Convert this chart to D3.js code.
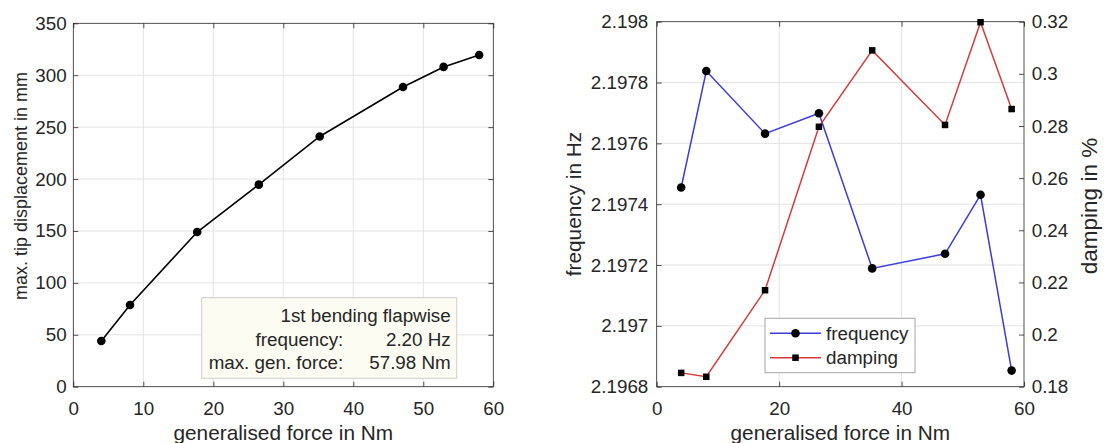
<!DOCTYPE html>
<html>
<head>
<meta charset="utf-8">
<script src="https://cdn.jsdelivr.net/npm/d3@7"></script>
<style>
  body { margin: 0; background: #fff; }
  svg text { font-family: "Liberation Sans", Arial, Helvetica, sans-serif; fill: #262626; }
</style>
</head>
<body>
<svg id="chart" width="1104" height="443"></svg>
<script>
// Generalised force levels (Nm) used for every run
const force = [4, 8.1, 17.7, 26.5, 35.2, 47.1, 52.9, 57.98];
// Max. tip displacement (mm) per force level
const tipDisplacement = [44, 78.7, 149, 194.6, 241, 288.7, 308, 319.5];
// Identified first flapwise bending frequency (Hz)
const frequencyHz = [2.197455, 2.197838, 2.197632, 2.197699, 2.197189, 2.197237, 2.197431, 2.196853];
// Identified damping (%)
const dampingPct = [0.1853, 0.1838, 0.2170, 0.2797, 0.3090, 0.2804, 0.3198, 0.2865];

// Tick values and labels
const leftXTicks = [0, 10, 20, 30, 40, 50, 60];
const leftYTicks = [0, 50, 100, 150, 200, 250, 300, 350];
const rightXTicks = [0, 20, 40, 60];
const freqTicks = [2.1968, 2.197, 2.1972, 2.1974, 2.1976, 2.1978, 2.198];
const freqTickLabels = ["2.1968", "2.197", "2.1972", "2.1974", "2.1976", "2.1978", "2.198"];
const dampTicks = [0.18, 0.2, 0.22, 0.24, 0.26, 0.28, 0.3, 0.32];
const dampTickLabels = ["0.18", "0.2", "0.22", "0.24", "0.26", "0.28", "0.3", "0.32"];

const svg = d3.select("#chart");
const AXIS = "#262626";
const GRID = "#e3e3e3";
const FS = 18.8;     // tick labels, legend, info box
const LFS = 20.8;    // axis labels
const TICK = 5;

function styleAxis(g, hideText) {
  g.select(".domain").remove();
  g.selectAll(".tick line").attr("stroke", AXIS).attr("stroke-width", 0.8);
  g.selectAll(".tick text").attr("font-size", FS).attr("fill", AXIS);
  if (hideText) g.selectAll(".tick text").remove();
}

function frame(g, x0, x1, y0, y1) {
  g.append("rect").attr("x", x0).attr("y", y0).attr("width", x1 - x0).attr("height", y1 - y0)
    .attr("fill", "none").attr("stroke", AXIS).attr("stroke-width", 0.8);
}

// ---------------- Left panel: tip displacement ----------------
{
  const x0 = 73.3, x1 = 493.3, y0 = 23.3, y1 = 386.7;
  const x = d3.scaleLinear().domain([0, 60]).range([x0, x1]);
  const y = d3.scaleLinear().domain([0, 350]).range([y1, y0]);
  const g = svg.append("g");

  // grid
  g.append("g").selectAll("line").data(leftXTicks.slice(1, -1)).join("line")
    .attr("x1", d => x(d)).attr("x2", d => x(d)).attr("y1", y0).attr("y2", y1)
    .attr("stroke", GRID).attr("stroke-width", 1);
  g.append("g").selectAll("line").data(leftYTicks.slice(1, -1)).join("line")
    .attr("y1", d => y(d)).attr("y2", d => y(d)).attr("x1", x0).attr("x2", x1)
    .attr("stroke", GRID).attr("stroke-width", 1);

  g.append("g").attr("transform", `translate(0,${y1})`)
    .call(d3.axisBottom(x).tickValues(leftXTicks).tickSize(-TICK).tickPadding(15).tickFormat(d3.format("d")))
    .call(a => styleAxis(a, false));
  g.append("g").attr("transform", `translate(0,${y0})`)
    .call(d3.axisTop(x).tickValues(leftXTicks).tickSize(-TICK))
    .call(a => styleAxis(a, true));
  g.append("g").attr("transform", `translate(${x0},0)`)
    .call(d3.axisLeft(y).tickValues(leftYTicks).tickSize(-TICK).tickPadding(6.6).tickFormat(d3.format("d")))
    .call(a => styleAxis(a, false));
  g.append("g").attr("transform", `translate(${x1},0)`)
    .call(d3.axisRight(y).tickValues(leftYTicks).tickSize(-TICK))
    .call(a => styleAxis(a, true));
  frame(g, x0, x1, y0, y1);

  const pts = force.map((f, i) => [f, tipDisplacement[i]]);
  g.append("path").datum(pts)
    .attr("d", d3.line().x(d => x(d[0])).y(d => y(d[1])))
    .attr("fill", "none").attr("stroke", "#000").attr("stroke-width", 1.6);
  g.append("g").selectAll("circle").data(pts).join("circle")
    .attr("cx", d => x(d[0])).attr("cy", d => y(d[1])).attr("r", 4.3).attr("fill", "#000");

  // axis labels
  g.append("text").attr("x", (x0 + x1) / 2).attr("y", 440).attr("text-anchor", "middle")
    .attr("font-size", LFS).text("generalised force in Nm");
  g.append("text").attr("transform", "translate(26.5,186) rotate(-90)").attr("text-anchor", "middle")
    .attr("font-size", 18).text("max. tip displacement in mm");

  // info box
  const bx0 = 201.7, bx1 = 456.7, by0 = 297.7, by1 = 378.3;
  g.append("rect").attr("x", bx0).attr("y", by0).attr("width", bx1 - bx0).attr("height", by1 - by0)
    .attr("fill", "#fcfcf2").attr("stroke", "#cfcfcf").attr("stroke-width", 1);
  const rx = 450.7, mx = 343.3;
  g.append("text").attr("x", rx).attr("y", 321.7).attr("text-anchor", "end").attr("font-size", FS)
    .text("1st bending flapwise");
  g.append("text").attr("x", mx).attr("y", 345.7).attr("text-anchor", "end").attr("font-size", FS)
    .text("frequency:");
  g.append("text").attr("x", rx).attr("y", 345.7).attr("text-anchor", "end").attr("font-size", FS)
    .text(d3.mean(frequencyHz).toFixed(2) + " Hz");
  g.append("text").attr("x", mx).attr("y", 369).attr("text-anchor", "end").attr("font-size", FS)
    .text("max. gen. force:");
  g.append("text").attr("x", rx).attr("y", 369).attr("text-anchor", "end").attr("font-size", FS)
    .text(d3.max(force).toFixed(2) + " Nm");
}

// ---------------- Right panel: frequency & damping ----------------
{
  const x0 = 656.7, x1 = 1024, y0 = 21.7, y1 = 386.7;
  const x = d3.scaleLinear().domain([0, 60]).range([x0, x1]);
  const yF = d3.scaleLinear().domain([2.1968, 2.198]).range([y1, y0]);
  const yD = d3.scaleLinear().domain([0.18, 0.32]).range([y1, y0]);
  const g = svg.append("g");

  g.append("g").selectAll("line").data(rightXTicks.slice(1, -1)).join("line")
    .attr("x1", d => x(d)).attr("x2", d => x(d)).attr("y1", y0).attr("y2", y1)
    .attr("stroke", GRID).attr("stroke-width", 1);
  g.append("g").selectAll("line").data(freqTicks.slice(1, -1)).join("line")
    .attr("y1", d => yF(d)).attr("y2", d => yF(d)).attr("x1", x0).attr("x2", x1)
    .attr("stroke", GRID).attr("stroke-width", 1);

  g.append("g").attr("transform", `translate(0,${y1})`)
    .call(d3.axisBottom(x).tickValues(rightXTicks).tickSize(-TICK).tickPadding(15).tickFormat(d3.format("d")))
    .call(a => styleAxis(a, false));
  g.append("g").attr("transform", `translate(0,${y0})`)
    .call(d3.axisTop(x).tickValues(rightXTicks).tickSize(-TICK))
    .call(a => styleAxis(a, true));
  g.append("g").attr("transform", `translate(${x0},0)`)
    .call(d3.axisLeft(yF).tickValues(freqTicks).tickSize(-TICK).tickPadding(8.4)
      .tickFormat((d, i) => freqTickLabels[i]))
    .call(a => styleAxis(a, false));
  g.append("g").attr("transform", `translate(${x1},0)`)
    .call(d3.axisRight(yD).tickValues(dampTicks).tickSize(-TICK).tickPadding(7.7)
      .tickFormat((d, i) => dampTickLabels[i]))
    .call(a => styleAxis(a, false));
  frame(g, x0, x1, y0, y1);

  const BLUE = "#3c3cdc", RED = "#d63a3a";
  const fPts = force.map((f, i) => [f, frequencyHz[i]]);
  const dPts = force.map((f, i) => [f, dampingPct[i]]);

  g.append("path").datum(fPts)
    .attr("d", d3.line().x(d => x(d[0])).y(d => yF(d[1])))
    .attr("fill", "none").attr("stroke", BLUE).attr("stroke-width", 1.5);
  g.append("path").datum(dPts)
    .attr("d", d3.line().x(d => x(d[0])).y(d => yD(d[1])))
    .attr("fill", "none").attr("stroke", RED).attr("stroke-width", 1.5);
  g.append("g").selectAll("circle").data(fPts).join("circle")
    .attr("cx", d => x(d[0])).attr("cy", d => yF(d[1])).attr("r", 4.3).attr("fill", "#000");
  const S = 6.5;
  g.append("g").selectAll("rect").data(dPts).join("rect")
    .attr("x", d => x(d[0]) - S / 2).attr("y", d => yD(d[1]) - S / 2)
    .attr("width", S).attr("height", S).attr("fill", "#000");

  g.append("text").attr("x", (x0 + x1) / 2).attr("y", 440).attr("text-anchor", "middle")
    .attr("font-size", LFS).text("generalised force in Nm");
  g.append("text").attr("transform", "translate(581,204) rotate(-90)").attr("text-anchor", "middle")
    .attr("font-size", LFS).text("frequency in Hz");
  g.append("text").attr("transform", "translate(1097,206) rotate(-90)").attr("text-anchor", "middle")
    .attr("font-size", 22.5).text("damping in %");

  // legend
  const lx0 = 765, lx1 = 915, ly0 = 318.3, ly1 = 372.7;
  g.append("rect").attr("x", lx0).attr("y", ly0).attr("width", lx1 - lx0).attr("height", ly1 - ly0)
    .attr("fill", "#fff").attr("stroke", "#a6a6a6").attr("stroke-width", 1);
  const items = [
    { name: "frequency", color: BLUE, marker: "circle", y: 333.3 },
    { name: "damping", color: RED, marker: "square", y: 357.7 }
  ];
  items.forEach(it => {
    g.append("line").attr("x1", 770).attr("x2", 821).attr("y1", it.y).attr("y2", it.y)
      .attr("stroke", it.color).attr("stroke-width", 1.5);
    if (it.marker === "circle") {
      g.append("circle").attr("cx", 795.5).attr("cy", it.y).attr("r", 4.3).attr("fill", "#000");
    } else {
      g.append("rect").attr("x", 795.5 - S / 2).attr("y", it.y - S / 2).attr("width", S).attr("height", S).attr("fill", "#000");
    }
    g.append("text").attr("x", 826).attr("y", it.y).attr("dy", "0.35em").attr("font-size", FS).text(it.name);
  });
}
</script>
</body>
</html>
